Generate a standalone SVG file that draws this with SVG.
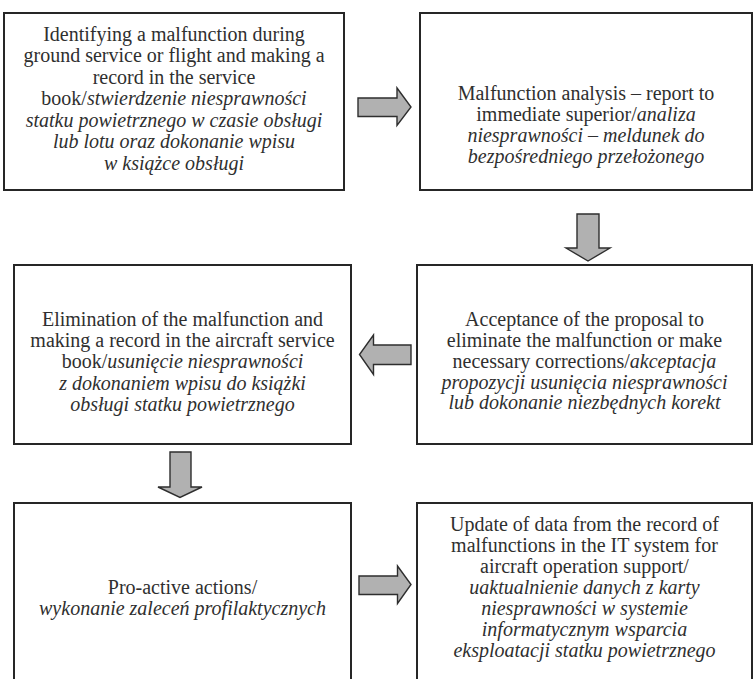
<svg xmlns="http://www.w3.org/2000/svg" width="754" height="679" viewBox="0 0 754 679">
<style>
.box{fill:#fff;stroke:#262626;stroke-width:2}
.arr{fill:#b1b1b1;stroke:#2e2e2e;stroke-width:1.4;stroke-linejoin:miter}
text{font-family:"Liberation Serif","Times New Roman",serif;font-size:20px;fill:#2f2f2f;text-anchor:middle}
.i{font-style:italic}
</style>
<rect width="754" height="679" fill="#fff"/>
<g id="connectors">
<path class="arr" d="M358,98 H397 V88 L411,107 L397,125.5 V116.5 H358 Z"/>
<path class="arr" d="M577,214 H599 V248 H610 L588,261 L566,248 H577 Z"/>
<path class="arr" d="M411,345 V364.5 H373.5 V374.5 L359.5,354.5 L373.5,335 V345 Z"/>
<path class="arr" d="M170,452 H191 V487 H202 L180,497.5 L158,487 H170 Z"/>
<path class="arr" d="M359,576 H397.5 V566 L411,584.5 L397.5,603.5 V594.5 H359 Z"/>
</g>
<g id="node1">
<rect class="box" x="4" y="13" width="340" height="177"/>
<text x="174" y="40.7">Identifying a malfunction during</text>
<text x="174" y="62.2">ground service or flight and making a</text>
<text x="174" y="83.7">record in the service</text>
<text x="174" y="105.2">book/<tspan class="i">stwierdzenie niesprawności</tspan></text>
<text x="174" y="126.7" class="i">statku powietrznego w czasie obsługi</text>
<text x="174" y="148.2" class="i">lub lotu oraz dokonanie wpisu</text>
<text x="174" y="169.7" class="i">w książce obsługi</text>
</g>
<g id="node2">
<rect class="box" x="420" y="13" width="332" height="177"/>
<text x="586" y="100">Malfunction analysis – report to</text>
<text x="586" y="121">immediate superior/<tspan class="i">analiza</tspan></text>
<text x="586" y="142" class="i">niesprawności – meldunek do</text>
<text x="586" y="163" class="i">bezpośredniego przełożonego</text>
</g>
<g id="node3">
<rect class="box" x="14" y="265" width="337" height="179"/>
<text x="182.5" y="326">Elimination of the malfunction and</text>
<text x="182.5" y="347">making a record in the aircraft service</text>
<text x="182.5" y="368.3">book/<tspan class="i">usunięcie niesprawności</tspan></text>
<text x="182.5" y="389.8" class="i">z dokonaniem wpisu do książki</text>
<text x="182.5" y="411.3" class="i">obsługi statku powietrznego</text>
</g>
<g id="node4">
<rect class="box" x="417" y="265" width="335" height="179"/>
<text x="584.5" y="326">Acceptance of the proposal to</text>
<text x="584.5" y="347">eliminate the malfunction or make</text>
<text x="584.5" y="367.8">necessary corrections/<tspan class="i">akceptacja</tspan></text>
<text x="584.5" y="388.6" class="i">propozycji usunięcia niesprawności</text>
<text x="584.5" y="409.4" class="i">lub dokonanie niezbędnych korekt</text>
</g>
<g id="node5">
<rect class="box" x="14" y="503" width="337" height="200"/>
<text x="182.5" y="594">Pro-active actions/</text>
<text x="182.5" y="615" class="i">wykonanie zaleceń profilaktycznych</text>
</g>
<g id="node6">
<rect class="box" x="417" y="503" width="335" height="200"/>
<text x="584.5" y="530.7">Update of data from the record of</text>
<text x="584.5" y="551.8">malfunctions in the IT system for</text>
<text x="584.5" y="572.9">aircraft operation support/</text>
<text x="584.5" y="594" class="i">uaktualnienie danych z karty</text>
<text x="584.5" y="615.1" class="i">niesprawności w systemie</text>
<text x="584.5" y="636.2" class="i">informatycznym wsparcia</text>
<text x="584.5" y="657.3" class="i">eksploatacji statku powietrznego</text>
</g>
</svg>
